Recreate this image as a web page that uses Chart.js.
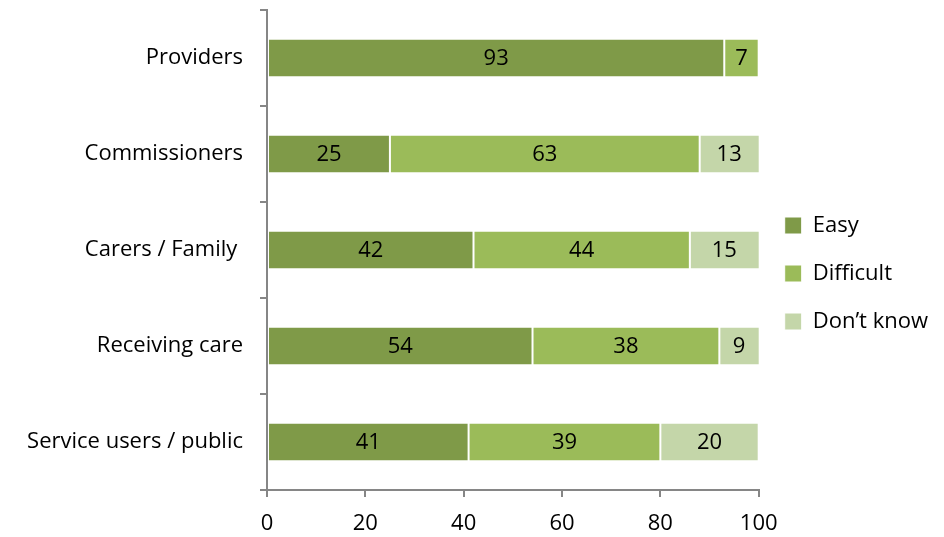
<!DOCTYPE html>
<html>
<head>
<meta charset="utf-8">
<script src="https://cdn.jsdelivr.net/npm/chart.js@4/dist/chart.umd.min.js"></script>
<style>
  html, body { margin: 0; padding: 0; background: #ffffff; }
  #wrap { width: 944px; height: 537px; position: relative; }
</style>
</head>
<body>
<div id="wrap"><canvas id="c" width="944" height="537"></canvas></div>
<script>
const categories = ['Providers', 'Commissioners', 'Carers / Family ', 'Receiving care', 'Service users / public'];
const easy = [93, 25, 42, 54, 41];
const difficult = [7, 63, 44, 38, 39];
const dontKnow = [0, 13, 15, 9, 20];
const xTicks = [0, 20, 40, 60, 80, 100];

const FONT = '"Open Sans", "Liberation Sans", sans-serif';
const FONT_SIZE = 22;

// Writes each segment's value in the middle of its bar
const barValueLabels = {
  id: 'barValueLabels',
  afterDatasetsDraw(chart) {
    const ctx = chart.ctx;
    ctx.save();
    ctx.font = FONT_SIZE + 'px ' + FONT;
    ctx.fillStyle = '#000000';
    ctx.textAlign = 'center';
    ctx.textBaseline = 'middle';
    chart.data.datasets.forEach((ds, i) => {
      const meta = chart.getDatasetMeta(i);
      meta.data.forEach((bar, j) => {
        const v = ds.data[j];
        if (!v) return;
        const left = Math.max(Math.min(bar.x, bar.base), chart.chartArea.left);
        const right = Math.min(Math.max(bar.x, bar.base), chart.chartArea.right);
        ctx.fillText(String(v), (left + right) / 2, bar.y + 1);
      });
    });
    ctx.restore();
  }
};

new Chart(document.getElementById('c'), {
  type: 'bar',
  data: {
    labels: categories,
    datasets: [
      { label: 'Easy', data: easy, backgroundColor: '#7F9A48' },
      { label: 'Difficult', data: difficult, backgroundColor: '#9BBB59' },
      { label: 'Don\u2019t know', data: dontKnow, backgroundColor: '#C4D6A9' }
    ].map(d => Object.assign(d, {
      borderColor: '#ffffff',
      borderWidth: 1,
      borderSkipped: false,
      barPercentage: 0.8,
      categoryPercentage: 0.5
    }))
  },
  options: {
    indexAxis: 'y',
    responsive: false,
    animation: false,
    devicePixelRatio: 1,
    layout: { padding: { top: 10, right: 6, left: 0, bottom: 0 } },
    plugins: {
      legend: {
        position: 'right',
        align: 'center',
        labels: {
          font: { family: FONT, size: FONT_SIZE },
          color: '#000000',
          boxWidth: 17,
          boxHeight: 17,
          padding: 26
        }
      },
      tooltip: { enabled: false }
    },
    scales: {
      x: {
        stacked: true,
        min: 0,
        max: 100,
        afterBuildTicks(scale) { scale.ticks = xTicks.map(v => ({ value: v })); },
        afterFit(scale) {
          scale.height = 47;
          scale.paddingLeft = 0;
          scale.paddingRight = 0;
        },
        grid: { drawOnChartArea: false, drawTicks: true, tickLength: 7, color: '#868686', lineWidth: 2 },
        border: { display: true, color: '#868686', width: 2 },
        ticks: { font: { family: FONT, size: FONT_SIZE }, color: '#000000', padding: 14 }
      },
      y: {
        stacked: true,
        afterFit(scale) {
          scale.width = 267;
          scale.paddingTop = 0;
          scale.paddingBottom = 0;
        },
        grid: { drawOnChartArea: false, drawTicks: true, tickLength: 7, offset: true, color: '#868686', lineWidth: 2 },
        border: { display: true, color: '#868686', width: 2 },
        ticks: { font: { family: FONT, size: FONT_SIZE }, color: '#000000', padding: 17 }
      }
    }
  },
  plugins: [barValueLabels]
});
</script>
</body>
</html>
